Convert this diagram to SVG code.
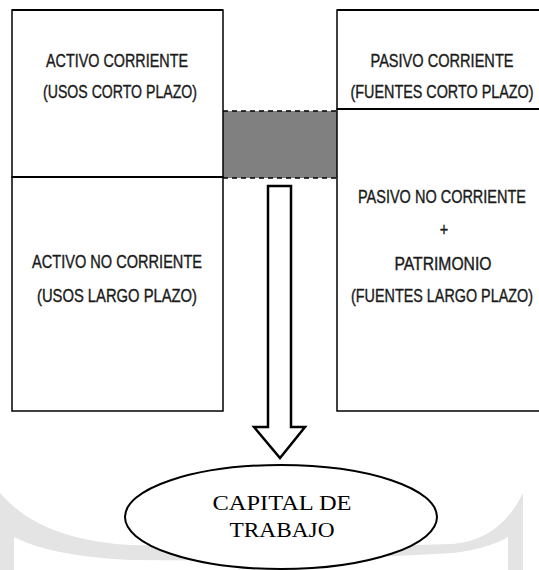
<svg xmlns="http://www.w3.org/2000/svg" width="539" height="570" viewBox="0 0 539 570">
<style>
.box{fill:#fff;stroke:#000;stroke-width:1.5}
.open{fill:#fff;stroke:#000;stroke-width:1.5}
.div{stroke:#000;stroke-width:2.2}
.top{stroke:#000;stroke-width:2.2}
.lbl{font-family:"Liberation Sans",Arial,sans-serif;font-size:14.5px;fill:#1a1a1a;stroke:#1a1a1a;stroke-width:0.3;text-anchor:middle}
.cap{font-family:"Liberation Serif","Times New Roman",serif;font-size:22px;fill:#000;text-anchor:middle}
.dash{stroke:#000;stroke-width:1.3;stroke-dasharray:5,4}
.wm{fill:#e4e4e4}
</style>
<g id="watermark">
<path class="wm" d="M0,493 Q40,540 130,545 L300,548 L300,561 L130,560 Q50,556 14,537 L14,570 L0,570 Z"/>
<path class="wm" d="M523,493 Q500,540 453,544 L300,548 L300,561 L453,553 Q490,548 508,537 L508,570 L523,570 Z"/>
</g>
<g id="gap">
<rect x="223" y="111" width="114" height="67" fill="#808080"/>
<line class="dash" x1="223" y1="111" x2="337" y2="111"/>
<line class="dash" x1="223" y1="178" x2="337" y2="178"/>
</g>
<g id="activo-corriente">
<rect class="box" x="12" y="10" width="211" height="167"/>
<line class="top" x1="12" y1="10" x2="223" y2="10"/>
<text class="lbl" transform="translate(117,67) scale(1,1.29)" textLength="142" lengthAdjust="spacingAndGlyphs">ACTIVO CORRIENTE</text>
<text class="lbl" transform="translate(120,98) scale(1,1.29)" textLength="154" lengthAdjust="spacingAndGlyphs">(USOS CORTO PLAZO)</text>
</g>
<g id="activo-no-corriente">
<rect class="box" x="12" y="177" width="211" height="234"/>
<line class="div" x1="12" y1="177" x2="223" y2="177"/>
<text class="lbl" transform="translate(117,268) scale(1,1.29)" textLength="170" lengthAdjust="spacingAndGlyphs">ACTIVO NO CORRIENTE</text>
<text class="lbl" transform="translate(117,302) scale(1,1.29)" textLength="160" lengthAdjust="spacingAndGlyphs">(USOS LARGO PLAZO)</text>
</g>
<g id="pasivo-corriente">
<path class="open" d="M539,10 H337 V109 H539"/>
<line class="top" x1="337" y1="10" x2="539" y2="10"/>
<text class="lbl" transform="translate(442,67) scale(1,1.29)" textLength="143" lengthAdjust="spacingAndGlyphs">PASIVO CORRIENTE</text>
<text class="lbl" transform="translate(442,98) scale(1,1.29)" textLength="183" lengthAdjust="spacingAndGlyphs">(FUENTES CORTO PLAZO)</text>
</g>
<g id="pasivo-no-corriente">
<path class="open" d="M539,109 H337 V411 H539"/>
<line class="div" x1="337" y1="109" x2="539" y2="109"/>
<text class="lbl" transform="translate(442,203) scale(1,1.29)" textLength="168" lengthAdjust="spacingAndGlyphs">PASIVO NO CORRIENTE</text>
<text class="lbl" transform="translate(444,236) scale(1,1.29)">+</text>
<text class="lbl" transform="translate(443,270) scale(1,1.29)" textLength="97" lengthAdjust="spacingAndGlyphs">PATRIMONIO</text>
<text class="lbl" transform="translate(442,302) scale(1,1.29)" textLength="182" lengthAdjust="spacingAndGlyphs">(FUENTES LARGO PLAZO)</text>
</g>
<g id="connectors">
<path d="M268,186 L291,186 L291,427 L305,427 L280,458 L254,427 L268,427 Z" fill="#fff" stroke="#000" stroke-width="2.5" stroke-linejoin="miter"/>
</g>
<g id="capital-de-trabajo">
<ellipse cx="281" cy="517" rx="156" ry="52" fill="#fff" stroke="#000" stroke-width="2"/>
<text class="cap" x="282" y="510" textLength="139" lengthAdjust="spacingAndGlyphs">CAPITAL DE</text>
<text class="cap" x="282" y="537" textLength="105" lengthAdjust="spacingAndGlyphs">TRABAJO</text>
</g>
</svg>
